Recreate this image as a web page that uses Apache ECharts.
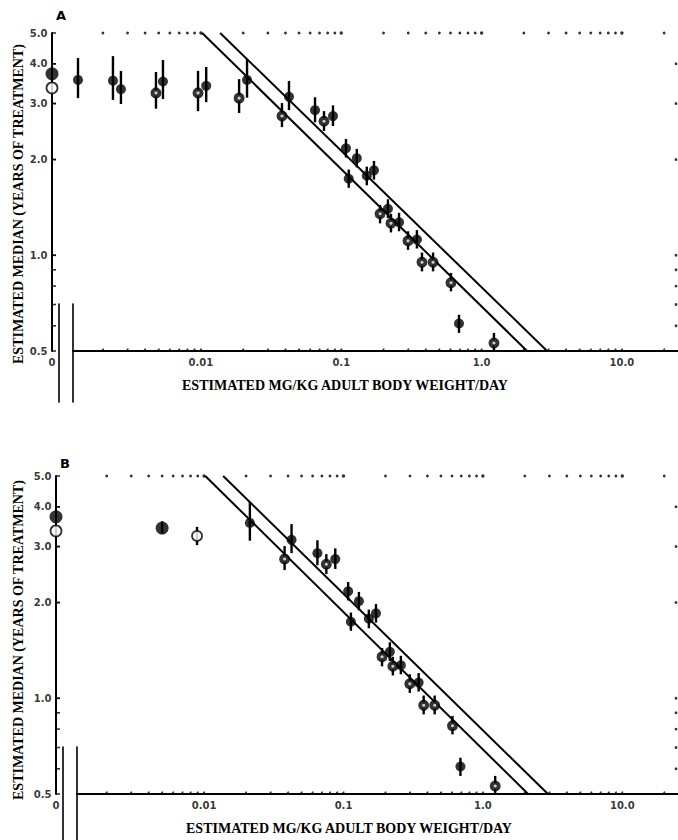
<!DOCTYPE html>
<html>
<head>
<meta charset="utf-8">
<script src="https://cdn.jsdelivr.net/npm/echarts@6/dist/echarts.min.js"></script>
<style>
  html, body { margin: 0; background: #fff; }
  #chart { width: 678px; height: 840px; }
</style>
</head>
<body>
<div id="chart"></div>
<script>
// ---- axes ----
const DOSE_MIN = 0.001225, DOSE_MAX = 25.1;
const MEDIAN_MIN = 0.5, MEDIAN_MAX = 5.0;
const doseTicks = [0.01, 0.1, 1, 10];
const doseTickLabels = ['0.01', '0.1', '1.0', '10.0'];
const doseMinorTicks = [0.002, 0.003, 0.004, 0.005, 0.006, 0.007, 0.008, 0.009,
  0.02, 0.03, 0.04, 0.05, 0.06, 0.07, 0.08, 0.09,
  0.2, 0.3, 0.4, 0.5, 0.6, 0.7, 0.8, 0.9,
  2, 3, 4, 5, 6, 7, 8, 9, 20];
const medianTicks = [5, 4, 3, 2, 1, 0.5];
const medianTickLabels = ['5.0', '4.0', '3.0', '2.0', '1.0', '0.5'];
const medianMinorTicks = [4, 3, 2, 1, 0.9, 0.8, 0.7, 0.6];

// ---- controls (dose 0) ----
const controlFilled = 3.72;
const controlOpen = 3.36;

// ---- panel A: low doses ----
const lowDoseA = [0.00133, 0.00236, 0.00269, 0.00478, 0.00536, 0.00953, 0.0109, 0.0187];
const lowMedianA = [3.56, 3.54, 3.33, 3.24, 3.52, 3.24, 3.41, 3.12];
const lowLoA = [3.12, 3.08, 2.99, 2.89, 3.10, 2.84, 3.03, 2.80];
const lowHiA = [4.17, 4.23, 3.80, 3.77, 4.11, 3.80, 3.91, 3.58];
const lowKindA = ['f', 'f', 'f', 'o', 'f', 'o', 'f', 'o'];

// ---- panel B: pooled low doses ----
const pooledDoseB = [0.0050, 0.0089];
const pooledMedianB = [3.43, 3.24];
const pooledLoB = [3.30, 3.03];
const pooledHiB = [3.60, 3.46];

// ---- both panels: dose-response points ----
const doses = [0.0213, 0.0378, 0.0424, 0.065, 0.0753, 0.0873, 0.108, 0.113, 0.129, 0.152, 0.171,
  0.189, 0.215, 0.226, 0.258, 0.299, 0.346, 0.376, 0.451, 0.605, 0.690, 1.225];
const medians = [3.56, 2.74, 3.15, 2.86, 2.64, 2.74, 2.17, 1.74, 2.02, 1.78, 1.85,
  1.35, 1.40, 1.26, 1.27, 1.11, 1.12, 0.95, 0.95, 0.82, 0.61, 0.53];
const mediansLo = [3.13, 2.53, 2.86, 2.62, 2.46, 2.55, 2.03, 1.63, 1.89, 1.66, 1.73,
  1.26, 1.31, 1.18, 1.19, 1.04, 1.05, 0.89, 0.89, 0.77, 0.57, 0.50];
const mediansHi = [4.14, 3.01, 3.53, 3.14, 2.84, 2.96, 2.32, 1.86, 2.16, 1.90, 1.98,
  1.44, 1.50, 1.35, 1.36, 1.19, 1.20, 1.02, 1.02, 0.88, 0.65, 0.57];
const kinds = ['f', 'o', 'f', 'f', 'o', 'f', 'f', 'f', 'f', 'f', 'f',
  'o', 'f', 'o', 'f', 'o', 'f', 'o', 'o', 'o', 'f', 'o'];

// ---- fitted lines ----
const fitLowerDose = [0.0102, 2.11];
const fitUpperDose = [0.0137, 2.93];
const fitMedian = [5.0, 0.5];

const BLACK = '#000';
const tickFont = { color: BLACK, fontFamily: 'DejaVu Sans', fontWeight: 'bold', fontSize: 10 };
const titleFont = 'bold 14px "Liberation Serif"';
const markerStyle = {
  f: { color: BLACK },
  o: { color: '#fff', borderColor: BLACK, borderWidth: 4 },
  open: { color: '#fff', borderColor: BLACK, borderWidth: 1.8 }
};
const markerSize = { f: 10, o: 7 };

const panels = [
  { dx: 0, top: 33, letter: 'A' },
  { dx: 4, top: 476, letter: 'B' }
];

const grid = [], xAxis = [], yAxis = [], series = [], graphic = [];
const bare = { axisLine: { show: false }, axisTick: { show: false }, axisLabel: { show: false }, splitLine: { show: false } };
const solid = { show: true, onZero: false, lineStyle: { color: BLACK, width: 2 } };

function errorBars(xi, yi, xs, los, his) {
  return {
    type: 'custom', xAxisIndex: xi, yAxisIndex: yi, clip: false, silent: true, z: 2,
    data: xs.map((x, i) => [x, los[i], his[i]]),
    renderItem: (params, api) => {
      const a = api.coord([api.value(0), api.value(1)]);
      const b = api.coord([api.value(0), api.value(2)]);
      return { type: 'line', shape: { x1: a[0], y1: a[1], x2: b[0], y2: b[1] },
        style: { stroke: BLACK, lineWidth: 2.4 } };
    }
  };
}

function points(xi, yi, data, kind, size) {
  return { type: 'scatter', xAxisIndex: xi, yAxisIndex: yi, data: data, symbolSize: size,
    itemStyle: markerStyle[kind], clip: false, silent: true, z: 3 };
}

function dots(xi, yi, data, size, offset) {
  return { type: 'scatter', xAxisIndex: xi, yAxisIndex: yi, data: data, symbolSize: size,
    symbolOffset: offset || [0, 0], itemStyle: { color: BLACK }, clip: false, silent: true, z: 1 };
}

function labels(xi, yi, data, texts, position, distance) {
  return { type: 'scatter', xAxisIndex: xi, yAxisIndex: yi, symbolSize: 1, clip: false, silent: true,
    itemStyle: { color: 'rgba(0,0,0,0)' },
    data: data.map((d, i) => ({ value: d, label: { formatter: texts[i] } })),
    label: Object.assign({ show: true, position: position, distance: distance }, tickFont) };
}

panels.forEach((p, k) => {
  const gz = 3 * k, gl = 3 * k + 1, gb = 3 * k + 2;
  const yz = 4 * k, yl = 4 * k + 1;
  // zero-dose strip, log dose area, axis break
  grid.push({ left: 52 + p.dx, top: p.top, width: 7, height: 318 });
  grid.push({ left: 73 + p.dx, top: p.top, width: 605, height: 318 });
  grid.push({ left: 59 + p.dx, top: p.top + 271, width: 14, height: 98 });

  xAxis.push(Object.assign({ gridIndex: gz, type: 'value', min: 0, max: 1 }, bare));
  xAxis.push(Object.assign({ gridIndex: gl, type: 'log', logBase: 10, min: DOSE_MIN, max: DOSE_MAX }, bare,
    { axisLine: solid, position: 'bottom' }));
  xAxis.push(Object.assign({ gridIndex: gb, type: 'value', min: 0, max: 1, show: false }, bare));

  yAxis.push(Object.assign({ gridIndex: gz, type: 'log', logBase: 10, min: MEDIAN_MIN, max: MEDIAN_MAX }, bare,
    { axisLine: solid, position: 'left' }));
  yAxis.push(Object.assign({ gridIndex: gl, type: 'log', logBase: 10, min: MEDIAN_MIN, max: MEDIAN_MAX }, bare));
  yAxis.push(Object.assign({ gridIndex: gb, type: 'value', min: 0, max: 1 }, bare,
    { axisLine: { show: true, onZero: false, lineStyle: { color: BLACK, width: 1.6 } }, position: 'left' }));
  yAxis.push(Object.assign({ gridIndex: gb, type: 'value', min: 0, max: 1 }, bare,
    { axisLine: { show: true, onZero: false, lineStyle: { color: BLACK, width: 1.6 } }, position: 'right' }));

  // frame decorations: dotted top, right dots, minor dots on the dose axis, left ticks
  series.push(dots(gl, yl, doseMinorTicks.map(v => [v, MEDIAN_MAX]), 2.8));
  series.push(dots(gl, yl, doseTicks.map(v => [v, MEDIAN_MAX]), 3.4));
  series.push(dots(gl, yl, medianMinorTicks.map(v => [DOSE_MAX, v]), 2.8, [-2, 0]));
  series.push(dots(gl, yl, doseMinorTicks.concat(doseTicks).map(v => [v, MEDIAN_MIN]), 2, [0, -1.5]));
  series.push({ type: 'scatter', xAxisIndex: gz, yAxisIndex: yz, symbol: 'rect', symbolSize: [4, 1.6],
    symbolOffset: [2, 0], itemStyle: { color: BLACK }, clip: false, silent: true,
    data: medianTicks.concat(medianMinorTicks).map(v => [0, v]) });

  // tick labels
  series.push(labels(gz, yz, medianTicks.map(v => [0, v]), medianTickLabels, 'left', 4));
  series.push(labels(gz, yz, [[0, MEDIAN_MIN]], ['0'], 'bottom', 6));
  series.push(labels(gl, yl, doseTicks.map(v => [v, MEDIAN_MIN]), doseTickLabels, 'bottom', 6));

  // fitted lines
  [fitLowerDose, fitUpperDose].forEach(fx => {
    series.push({ type: 'line', xAxisIndex: gl, yAxisIndex: yl, data: fx.map((x, i) => [x, fitMedian[i]]),
      symbol: 'none', lineStyle: { color: BLACK, width: 2 }, silent: true, z: 2 });
  });

  // data
  series.push(errorBars(gl, yl, doses, mediansLo, mediansHi));
  ['f', 'o'].forEach(kd => {
    series.push(points(gl, yl, doses.map((x, i) => [x, medians[i]]).filter((d, i) => kinds[i] === kd), kd, markerSize[kd]));
  });
  if (k === 0) {
    series.push(errorBars(gl, yl, lowDoseA, lowLoA, lowHiA));
    ['f', 'o'].forEach(kd => {
      series.push(points(gl, yl, lowDoseA.map((x, i) => [x, lowMedianA[i]]).filter((d, i) => lowKindA[i] === kd), kd, markerSize[kd]));
    });
  } else {
    series.push(errorBars(gl, yl, pooledDoseB, pooledLoB, pooledHiB));
    series.push(points(gl, yl, [[pooledDoseB[0], pooledMedianB[0]]], 'f', 13));
    series.push(points(gl, yl, [[pooledDoseB[1], pooledMedianB[1]]], 'open', 10));
  }
  series.push(points(gz, yz, [[0, controlFilled]], 'f', 13));
  series.push(points(gz, yz, [[0, controlOpen]], 'open', 11));

  // titles
  graphic.push({ type: 'text', x: 18, y: p.top + 171 + (k ? -7 : 0), rotation: Math.PI / 2,
    style: { text: 'ESTIMATED MEDIAN (YEARS OF TREATMENT)', font: titleFont, fill: BLACK,
      align: 'center', verticalAlign: 'middle', textAlign: 'center', textVerticalAlign: 'middle' } });
  graphic.push({ type: 'text', x: 345 + p.dx, y: p.top + 352,
    style: { text: 'ESTIMATED MG/KG ADULT BODY WEIGHT/DAY', font: titleFont, fill: BLACK,
      align: 'center', verticalAlign: 'middle', textAlign: 'center', textVerticalAlign: 'middle' } });
  graphic.push({ type: 'text', x: 61 + p.dx, y: p.top - 18 + (k ? 5 : 0),
    style: { text: p.letter, font: 'bold 13px "DejaVu Sans"', fill: BLACK,
      align: 'center', verticalAlign: 'middle', textAlign: 'center', textVerticalAlign: 'middle' } });
});

const chart = echarts.init(document.getElementById('chart'), null, { renderer: 'svg' });
chart.setOption({
  animation: false,
  backgroundColor: '#fff',
  grid: grid,
  xAxis: xAxis,
  yAxis: yAxis,
  series: series,
  graphic: graphic
});
</script>
</body>
</html>
